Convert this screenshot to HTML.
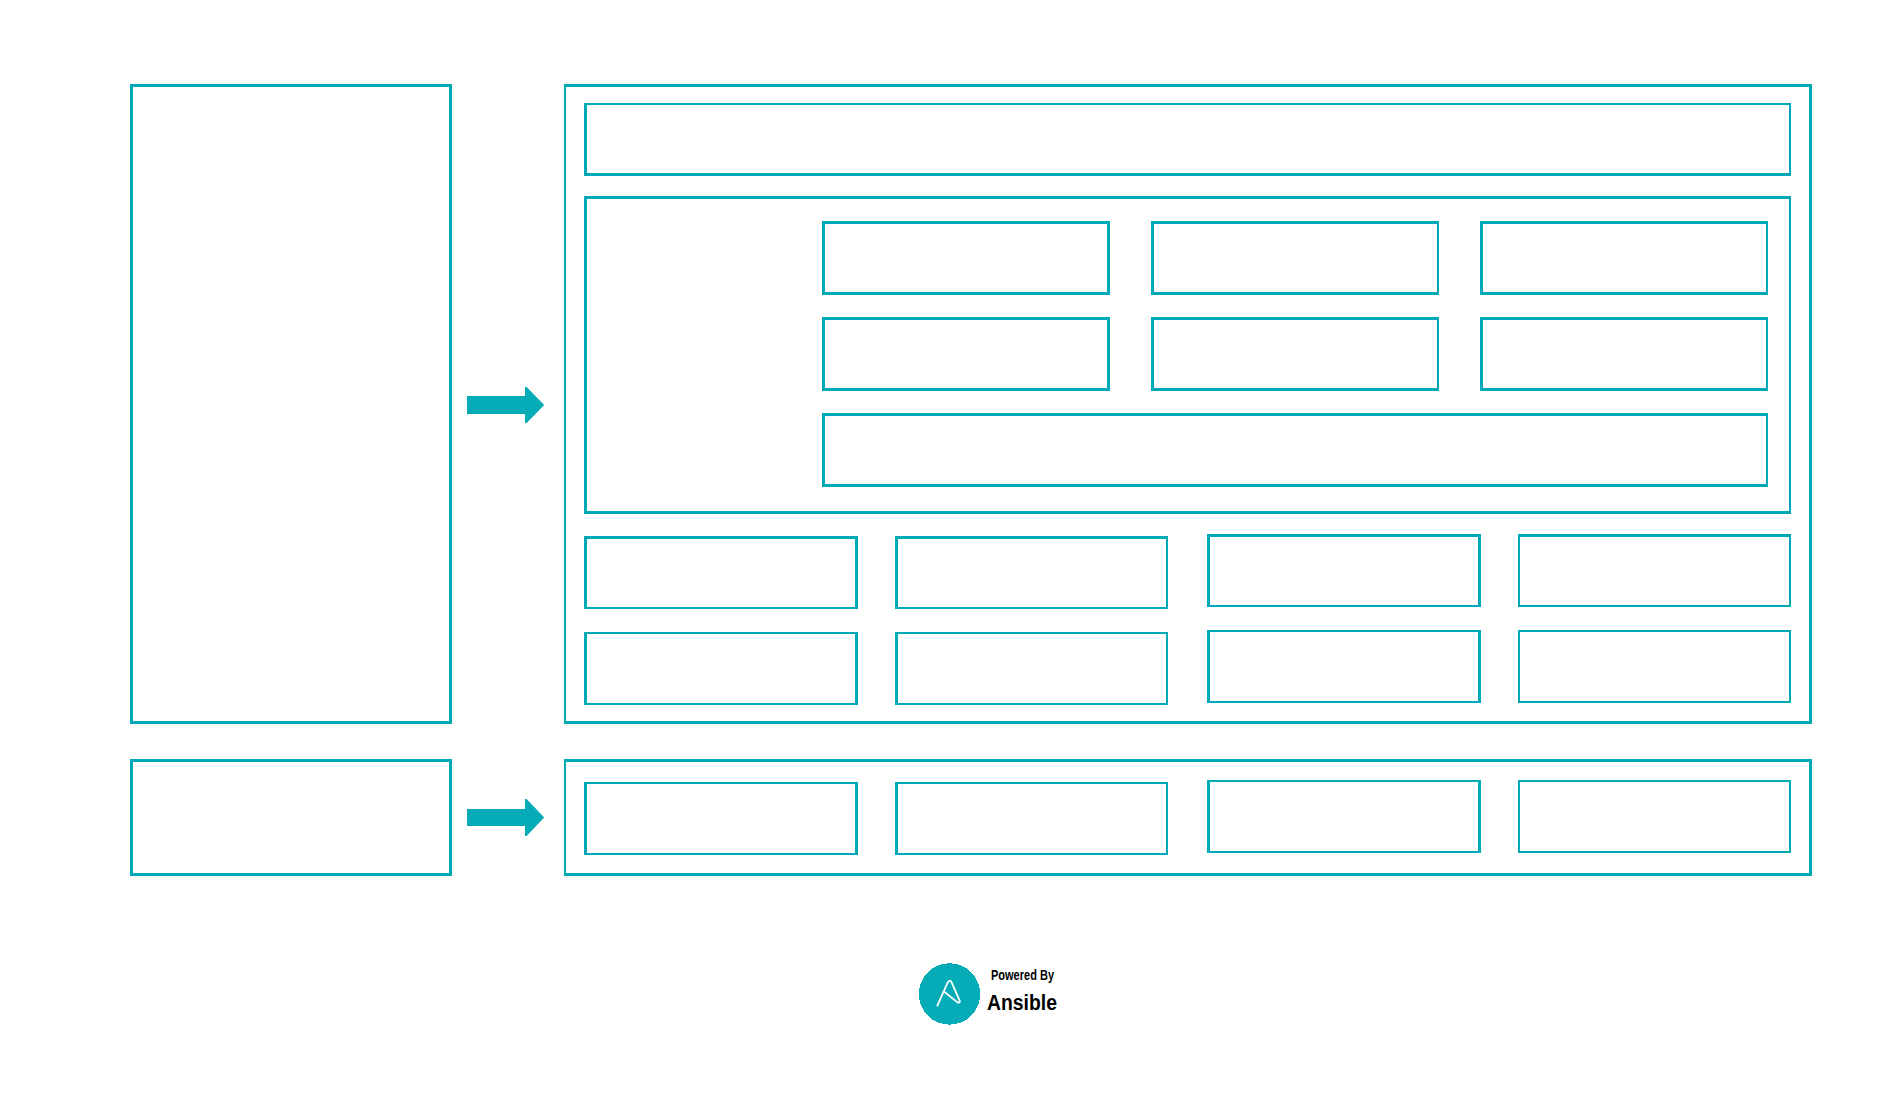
<!DOCTYPE html>
<html><head><meta charset="utf-8"><style>
html,body{margin:0;padding:0;background:#fff;width:1903px;height:1109px;overflow:hidden;position:relative}
.b{position:absolute;box-sizing:border-box;border-style:solid;border-color:#02a9b6}
svg{position:absolute;left:0;top:0}
</style></head><body>
<div class="b" style="left:130px;top:84px;width:322px;height:640px;border-width:3px 3px 3px 3px"></div>
<div class="b" style="left:564px;top:84px;width:1248px;height:640px;border-width:3px 3px 3px 2px"></div>
<div class="b" style="left:584px;top:103px;width:1207px;height:73px;border-width:2px 2px 3px 3px"></div>
<div class="b" style="left:584px;top:196px;width:1207px;height:318px;border-width:3px 2px 3px 3px"></div>
<div class="b" style="left:822px;top:221px;width:288px;height:74px;border-width:3px 3px 3px 3px"></div>
<div class="b" style="left:1151px;top:221px;width:288px;height:74px;border-width:3px 2px 3px 3px"></div>
<div class="b" style="left:1480px;top:221px;width:288px;height:74px;border-width:3px 2px 3px 3px"></div>
<div class="b" style="left:822px;top:317px;width:288px;height:74px;border-width:3px 3px 3px 3px"></div>
<div class="b" style="left:1151px;top:317px;width:288px;height:74px;border-width:3px 2px 3px 3px"></div>
<div class="b" style="left:1480px;top:317px;width:288px;height:74px;border-width:3px 2px 3px 3px"></div>
<div class="b" style="left:822px;top:413px;width:946px;height:74px;border-width:3px 2px 3px 3px"></div>
<div class="b" style="left:584px;top:536px;width:274px;height:73px;border-width:3px 3px 2px 3px"></div>
<div class="b" style="left:895px;top:536px;width:273px;height:73px;border-width:3px 2px 2px 3px"></div>
<div class="b" style="left:1207px;top:534px;width:274px;height:73px;border-width:3px 3px 2px 3px"></div>
<div class="b" style="left:1518px;top:534px;width:273px;height:73px;border-width:3px 2px 2px 2px"></div>
<div class="b" style="left:584px;top:632px;width:274px;height:73px;border-width:2px 3px 2px 3px"></div>
<div class="b" style="left:895px;top:632px;width:273px;height:73px;border-width:2px 2px 2px 3px"></div>
<div class="b" style="left:1207px;top:630px;width:274px;height:73px;border-width:2px 3px 2px 3px"></div>
<div class="b" style="left:1518px;top:630px;width:273px;height:73px;border-width:2px 2px 2px 2px"></div>
<div class="b" style="left:130px;top:759px;width:322px;height:117px;border-width:3px 3px 3px 3px"></div>
<div class="b" style="left:564px;top:759px;width:1248px;height:117px;border-width:3px 3px 3px 2px"></div>
<div class="b" style="left:584px;top:782px;width:274px;height:73px;border-width:2px 3px 2px 3px"></div>
<div class="b" style="left:895px;top:782px;width:273px;height:73px;border-width:2px 2px 2px 3px"></div>
<div class="b" style="left:1207px;top:780px;width:274px;height:73px;border-width:2px 3px 2px 3px"></div>
<div class="b" style="left:1518px;top:780px;width:273px;height:73px;border-width:2px 2px 2px 2px"></div>
<svg width="1903" height="1109" viewBox="0 0 1903 1109">
<polygon fill="#05abb7" points="467,396 525,396 525,387 526.6,387 544.2,405 526.6,423 525,423 525,414 467,414"/>
<polygon fill="#05abb7" points="467,809 525,809 525,799 526.6,799 544.2,817.5 526.6,836 525,836 525,826 467,826"/>
<circle cx="949.5" cy="994" r="30.7" fill="#05abb7" shape-rendering="crispEdges"/>
<path d="M937.36,1005.6 L947.78,982.26 Q949.67,979.8 951.41,981.94 L959.77,1000.88 Q960.4,1003.6 957.2,1002.1 L944.3,991.7" fill="none" stroke="#fff" stroke-width="1.8" stroke-linejoin="round" stroke-linecap="round"/>
<text x="991" y="980" font-family="'Liberation Sans', sans-serif" font-weight="bold" font-size="14.4" textLength="63" lengthAdjust="spacingAndGlyphs" fill="#000">Powered By</text>
<text x="987" y="1010" font-family="'Liberation Sans', sans-serif" font-weight="bold" font-size="22.8" textLength="70" lengthAdjust="spacingAndGlyphs" fill="#000">Ansible</text>
</svg>
</body></html>
